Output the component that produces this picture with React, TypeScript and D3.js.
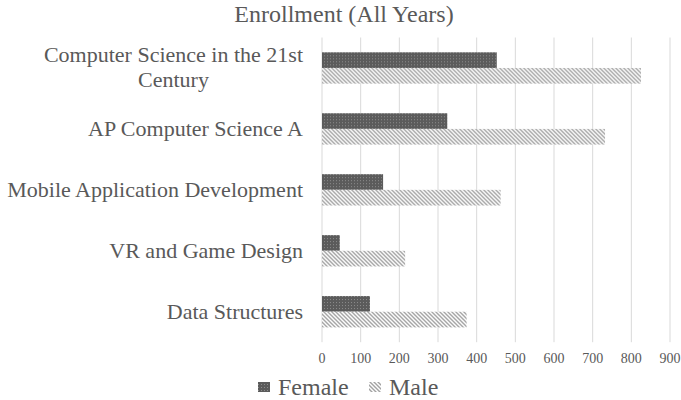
import React, { useEffect, useRef } from "react";
import * as d3 from "d3";

// Courses, top to bottom (first line / second line of label)
const courses = [
	"Computer Science in the 21st|Century",
	"AP Computer Science A",
	"Mobile Application Development",
	"VR and Game Design",
	"Data Structures",
];
const seriesNames = ["Female", "Male"];
const femaleCounts = [452, 324, 158, 46, 124];
const maleCounts = [825, 732, 462, 215, 374];
const xTicks = [0, 100, 200, 300, 400, 500, 600, 700, 800, 900];

export default function App() {
	const ref = useRef<SVGSVGElement | null>(null);

	useEffect(() => {
		const w = 681;
		const h = 400;
		const left = 322;
		const right = 670;
		const top = 37.5;
		const bottom = 342.2;
		const font = "'Liberation Serif', 'Times New Roman', serif";
		const textColor = "#595959";

		const svg = d3.select(ref.current).html("");
		svg.attr("width", w).attr("height", h);

		// Fill patterns
		const defs = svg.append("defs");
		const dots = defs
			.append("pattern")
			.attr("id", "pat-female")
			.attr("patternUnits", "userSpaceOnUse")
			.attr("width", 3)
			.attr("height", 3);
		dots.append("rect").attr("width", 3).attr("height", 3).attr("fill", "#5b5b5b");
		dots.append("rect").attr("width", 1).attr("height", 1).attr("fill", "#8c8c8c");

		const stripes = defs
			.append("pattern")
			.attr("id", "pat-male")
			.attr("patternUnits", "userSpaceOnUse")
			.attr("width", 4)
			.attr("height", 4);
		stripes.append("rect").attr("width", 4).attr("height", 4).attr("fill", "#ffffff");
		stripes
			.append("path")
			.attr("d", "M-1,-1 L5,5 M-1,3 L1,5 M3,-1 L5,1")
			.attr("stroke", "#a3a3a3")
			.attr("stroke-width", 1.4);

		const fills = ["url(#pat-female)", "url(#pat-male)"];

		// Scales
		const xScale = d3.scaleLinear().domain([0, 900]).range([left, right]);
		const yScale = d3
			.scaleBand<string>()
			.domain(courses)
			.range([top, bottom])
			.paddingInner(0.486)
			.paddingOuter(0.243);
		const ySub = d3
			.scaleBand<string>()
			.domain(seriesNames)
			.range([0, yScale.bandwidth()]);

		// Title
		svg
			.append("text")
			.attr("x", 344)
			.attr("y", 22)
			.attr("text-anchor", "middle")
			.attr("fill", textColor)
			.attr("font-family", font)
			.attr("font-size", 24)
			.text("Enrollment (All Years)");

		// Gridlines
		svg
			.append("g")
			.selectAll("line")
			.data(xTicks)
			.join("line")
			.attr("x1", (d) => xScale(d))
			.attr("x2", (d) => xScale(d))
			.attr("y1", top)
			.attr("y2", bottom)
			.attr("stroke", "#d9d9d9")
			.attr("stroke-width", 1);

		// x-axis labels
		svg
			.append("g")
			.selectAll("text")
			.data(xTicks)
			.join("text")
			.attr("x", (d) => xScale(d))
			.attr("y", 363)
			.attr("text-anchor", "middle")
			.attr("fill", textColor)
			.attr("font-family", font)
			.attr("font-size", 14)
			.text((d) => d);

		// Category labels: block right-aligned at 303, lines centred in it
		const labels = svg
			.append("g")
			.selectAll("text")
			.data(courses)
			.join("text")
			.attr("text-anchor", "middle")
			.attr("fill", textColor)
			.attr("font-family", font)
			.attr("font-size", 22);
		labels.each(function (d) {
			const lines = d.split("|");
			const cy = (yScale(d) as number) + yScale.bandwidth() / 2 + 7;
			const node = d3.select(this);
			const lh = 25;
			lines.forEach((line, i) => {
				node
					.append("tspan")
					.attr("x", 0)
					.attr("y", cy + (i - (lines.length - 1) / 2) * lh)
					.text(line);
			});
			const bw = (this as SVGTextElement).getBBox().width;
			node.selectAll("tspan").attr("x", 303 - bw / 2);
		});

		// Bars
		const data = courses.map((c, i) => ({
			course: c,
			values: [femaleCounts[i], maleCounts[i]],
		}));
		const groups = svg
			.append("g")
			.selectAll("g")
			.data(data)
			.join("g")
			.attr("transform", (d) => `translate(0, ${yScale(d.course)})`);
		groups
			.selectAll("rect")
			.data((d) => d.values.map((v, j) => ({ key: seriesNames[j], v, j })))
			.join("rect")
			.attr("x", xScale(0))
			.attr("y", (d) => ySub(d.key) as number)
			.attr("width", (d) => xScale(d.v) - xScale(0))
			.attr("height", ySub.bandwidth())
			.attr("fill", (d) => fills[d.j]);

		// Legend
		const legend = svg.append("g");
		const legendItems = [
			{ name: "Female", x: 258 },
			{ name: "Male", x: 369 },
		];
		legendItems.forEach((item, i) => {
			legend
				.append("rect")
				.attr("x", item.x)
				.attr("y", 382)
				.attr("width", 12)
				.attr("height", 10)
				.attr("fill", fills[i]);
			legend
				.append("text")
				.attr("x", item.x + 20)
				.attr("y", 395)
				.attr("fill", textColor)
				.attr("font-family", font)
				.attr("font-size", 24)
				.text(item.name);
		});
	}, []);

	return (
		<svg
			ref={ref}
			style={{ position: "absolute", left: 0, top: 0, background: "#fff" }}
		/>
	);
}
